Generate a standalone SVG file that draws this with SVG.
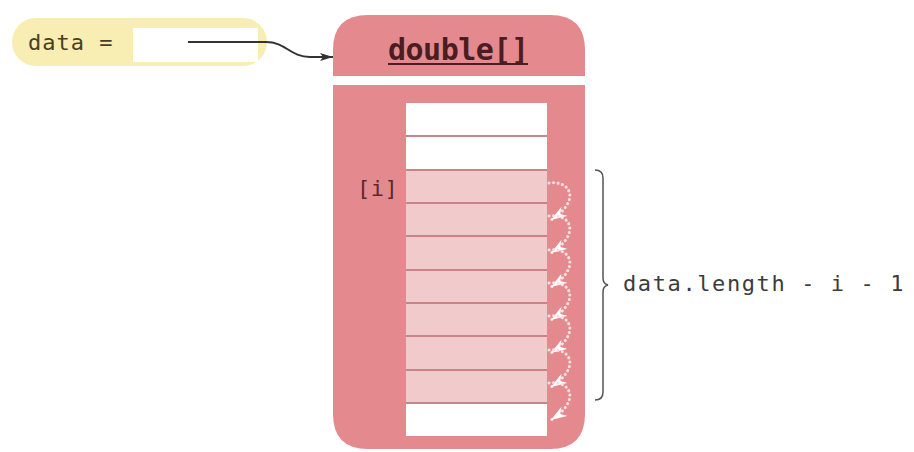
<svg xmlns="http://www.w3.org/2000/svg" width="914" height="452" viewBox="0 0 914 452">
<defs>
<style>
.mono{font-family:"DejaVu Sans Mono","Liberation Mono",monospace;}
.lbl{font-size:22px;letter-spacing:1.6px;}
.pink{fill:#e4898e;}
.cellw{fill:#ffffff;}
.sep{stroke:#cc8387;stroke-width:2;}
.dots{fill:none;stroke:#fbe0e2;stroke-width:3;stroke-linecap:round;stroke-dasharray:0.1 4.4;marker-end:url(#wh);}
</style>
<marker id="dk" markerUnits="userSpaceOnUse" markerWidth="14" markerHeight="10" refX="13" refY="5" orient="auto"><path d="M0,1 L13,5 L0,9 L3,5 Z" fill="#333333"/></marker>
<marker id="wh" markerUnits="userSpaceOnUse" markerWidth="18" markerHeight="12" refX="16" refY="6" orient="auto"><path d="M0,0.5 L16,6 L0,11.5 L5,6 Z" fill="#ffffff"/></marker>
</defs>
<rect x="0" y="0" width="914" height="452" fill="#ffffff"/>

<g id="data-var">
<rect x="12" y="18" width="255" height="48" rx="24" fill="#f8edb2"/>
<rect x="133" y="28" width="125" height="34" fill="#ffffff"/>
<text class="mono lbl" x="28" y="50" fill="#4a3d22" style="letter-spacing:1px">data =</text>
</g>

<g id="array">
<path class="pink" d="M333,76 L333,50 Q333,15 368,15 L550,15 Q585,15 585,50 L585,76 Z"/>
<text class="mono" x="388" y="60" font-size="30" font-weight="bold" fill="#4b1c21" style="letter-spacing:-0.5px">double[]</text>
<line x1="388" y1="64" x2="528" y2="64" stroke="#4b1c21" stroke-width="2"/>
<path class="pink" d="M333,85 L585,85 L585,414 Q585,449 550,449 L368,449 Q333,449 333,414 Z"/>
<rect x="406" y="103" width="141" height="333" fill="#f1cbcc"/>
<rect class="cellw" x="406" y="103" width="141" height="32"/>
<rect class="cellw" x="406" y="137" width="141" height="32"/>
<rect class="cellw" x="406" y="404" width="141" height="32"/>
<g class="sep">
<line x1="406" y1="136" x2="547" y2="136"/>
<line x1="406" y1="170" x2="547" y2="170"/>
<line x1="406" y1="203" x2="547" y2="203"/>
<line x1="406" y1="236" x2="547" y2="236"/>
<line x1="406" y1="270" x2="547" y2="270"/>
<line x1="406" y1="303" x2="547" y2="303"/>
<line x1="406" y1="336" x2="547" y2="336"/>
<line x1="406" y1="370" x2="547" y2="370"/>
<line x1="406" y1="403" x2="547" y2="403"/>
</g>
<text class="mono lbl" x="357" y="196" fill="#5a2a2e" style="letter-spacing:0.5px">[i]</text>
</g>

<g id="length-label">
<path d="M595,170 Q603,170 603,178 L603,278 Q603,284 608,285 Q603,286 603,292 L603,392 Q603,400 595,400" fill="none" stroke="#555555" stroke-width="1.5"/>
<text class="mono lbl" x="623" y="291" fill="#3c3c3c">data.length - i - 1</text>
</g>

<g id="connectors">
<path d="M188,42 L266,42 C286,42 290,57 310,57 L333,57" fill="none" stroke="#333333" stroke-width="2" marker-end="url(#dk)"/>
<path class="dots" d="M549,183 C570,180 582,200 551,220"/>
<path class="dots" d="M549,216 C570,213 582,233 551,253"/>
<path class="dots" d="M549,250 C570,247 582,267 551,287"/>
<path class="dots" d="M549,283 C570,280 582,300 551,320"/>
<path class="dots" d="M549,316 C570,313 582,333 551,353"/>
<path class="dots" d="M549,350 C570,347 582,367 551,387"/>
<path class="dots" d="M549,383 C570,380 582,400 551,420"/>
</g>
</svg>
